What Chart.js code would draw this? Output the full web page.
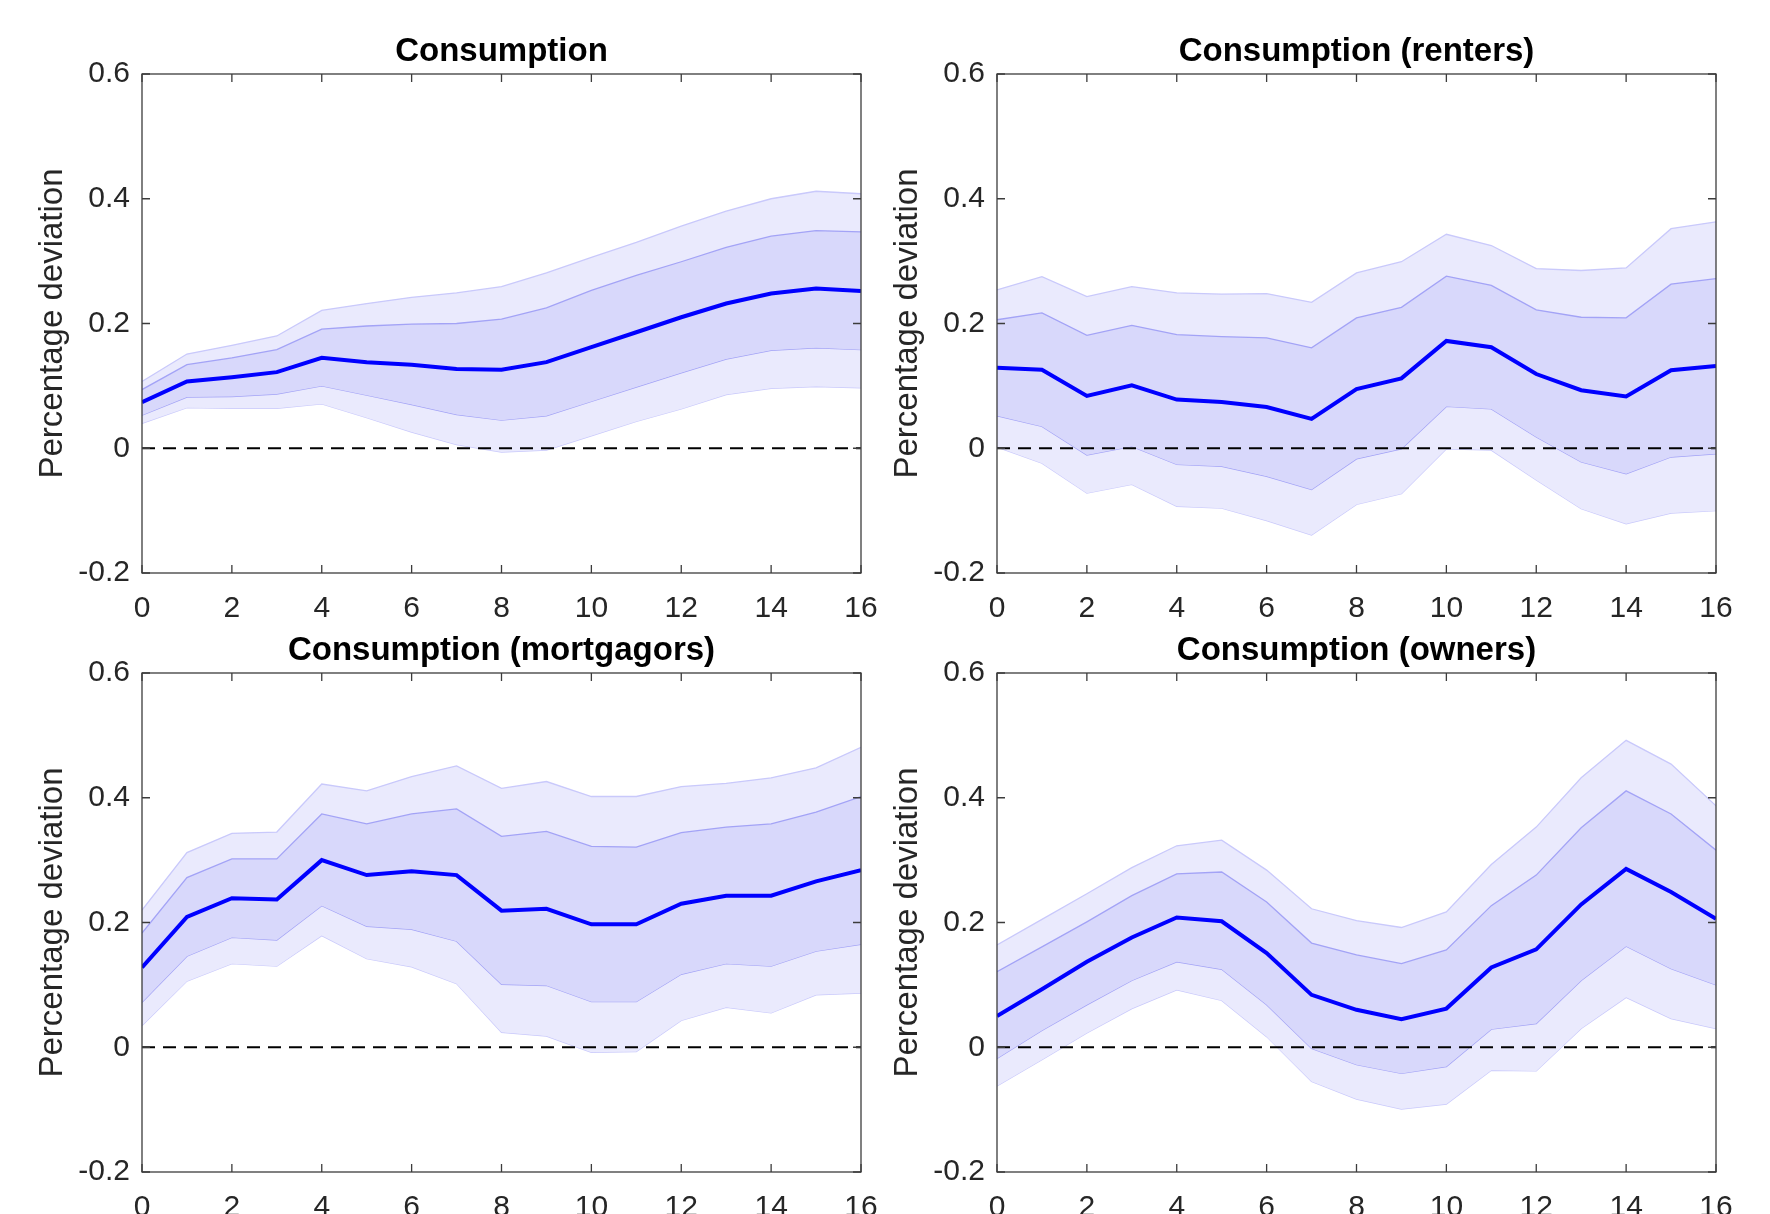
<!DOCTYPE html>
<html>
<head>
<meta charset="utf-8">
<script src="https://cdn.jsdelivr.net/npm/chart.js@4.4.1/dist/chart.umd.min.js"></script>
<style>
  html, body { margin: 0; padding: 0; background: #ffffff; overflow: hidden; }
  #wrap { position: relative; width: 1770px; height: 1214px; overflow: hidden; background: #fff; }
  canvas { position: absolute; }
</style>
</head>
<body>
<div id="wrap">
  <canvas id="c1" width="885" height="640" style="left:0px;top:0px"></canvas>
  <canvas id="c2" width="885" height="640" style="left:855px;top:0px"></canvas>
  <canvas id="c3" width="885" height="640" style="left:0px;top:599px"></canvas>
  <canvas id="c4" width="885" height="640" style="left:855px;top:599px"></canvas>
</div>
<script>
// ---- Data ----
const horizons = [0,1,2,3,4,5,6,7,8,9,10,11,12,13,14,15,16];
const xTicks = [0,2,4,6,8,10,12,14,16];
const xTickLabels = ['0','2','4','6','8','10','12','14','16'];
const yTicks = [-0.2,0,0.2,0.4,0.6];
const yTickLabels = ['-0.2','0','0.2','0.4','0.6'];
const zeroLineY = 0;
const yAxisTitle = 'Percentage deviation';

// Consumption
const consMean    = [0.074,0.107,0.114,0.122,0.145,0.138,0.134,0.127,0.126,0.138,0.162,0.186,0.210,0.232,0.248,0.256,0.252];
const consInnerUp = [0.094,0.134,0.145,0.158,0.191,0.196,0.199,0.200,0.207,0.225,0.253,0.277,0.299,0.322,0.340,0.349,0.347];
const consInnerLo = [0.053,0.082,0.083,0.087,0.100,0.085,0.070,0.054,0.045,0.052,0.075,0.098,0.121,0.143,0.157,0.161,0.158];
const consOuterUp = [0.107,0.151,0.165,0.180,0.221,0.232,0.242,0.249,0.259,0.281,0.306,0.330,0.356,0.380,0.400,0.412,0.408];
const consOuterLo = [0.040,0.065,0.064,0.064,0.071,0.049,0.026,0.006,-0.006,-0.003,0.020,0.043,0.063,0.086,0.096,0.099,0.097];

// Consumption (renters)
const rentMean    = [0.129,0.126,0.084,0.101,0.078,0.074,0.066,0.047,0.095,0.112,0.172,0.162,0.119,0.093,0.083,0.125,0.132];
const rentInnerUp = [0.206,0.217,0.181,0.197,0.182,0.179,0.177,0.161,0.209,0.226,0.276,0.261,0.222,0.210,0.209,0.263,0.272];
const rentInnerLo = [0.052,0.035,-0.011,0.003,-0.026,-0.029,-0.045,-0.066,-0.017,-0.001,0.067,0.063,0.018,-0.022,-0.041,-0.014,-0.009];
const rentOuterUp = [0.254,0.275,0.243,0.259,0.249,0.247,0.248,0.234,0.281,0.299,0.343,0.325,0.288,0.285,0.289,0.352,0.363];
const rentOuterLo = [0.002,-0.024,-0.072,-0.058,-0.093,-0.096,-0.116,-0.139,-0.090,-0.073,-0.001,-0.003,-0.051,-0.097,-0.121,-0.104,-0.100];

// Consumption (mortgagors)
const mortMean    = [0.128,0.209,0.239,0.237,0.300,0.276,0.282,0.276,0.219,0.222,0.197,0.197,0.230,0.243,0.243,0.266,0.284];
const mortInnerUp = [0.183,0.272,0.302,0.302,0.374,0.358,0.374,0.382,0.338,0.346,0.322,0.321,0.344,0.353,0.358,0.377,0.402];
const mortInnerLo = [0.072,0.146,0.176,0.172,0.227,0.194,0.189,0.170,0.101,0.099,0.073,0.073,0.117,0.134,0.130,0.154,0.165];
const mortOuterUp = [0.220,0.312,0.343,0.345,0.422,0.411,0.434,0.451,0.415,0.426,0.402,0.402,0.418,0.423,0.432,0.448,0.481];
const mortOuterLo = [0.035,0.106,0.134,0.130,0.179,0.142,0.129,0.102,0.024,0.018,-0.008,-0.007,0.043,0.064,0.055,0.084,0.087];

// Consumption (owners)
const ownMean    = [0.050,0.093,0.137,0.176,0.208,0.202,0.151,0.084,0.060,0.045,0.062,0.128,0.157,0.229,0.286,0.249,0.206];
const ownInnerUp = [0.121,0.161,0.201,0.243,0.278,0.281,0.233,0.167,0.148,0.134,0.156,0.227,0.276,0.352,0.411,0.374,0.316];
const ownInnerLo = [-0.018,0.027,0.068,0.107,0.137,0.125,0.068,-0.002,-0.028,-0.042,-0.031,0.029,0.038,0.107,0.162,0.126,0.100];
const ownOuterUp = [0.164,0.205,0.246,0.288,0.323,0.332,0.284,0.222,0.203,0.192,0.217,0.293,0.353,0.432,0.492,0.454,0.387];
const ownOuterLo = [-0.062,-0.020,0.023,0.062,0.092,0.075,0.017,-0.055,-0.083,-0.099,-0.091,-0.037,-0.038,0.030,0.080,0.046,0.030];

const panels = [
  { id: 'c1', title: 'Consumption',              mean: consMean, iu: consInnerUp, il: consInnerLo, ou: consOuterUp, ol: consOuterLo },
  { id: 'c2', title: 'Consumption (renters)',    mean: rentMean, iu: rentInnerUp, il: rentInnerLo, ou: rentOuterUp, ol: rentOuterLo },
  { id: 'c3', title: 'Consumption (mortgagors)', mean: mortMean, iu: mortInnerUp, il: mortInnerLo, ou: mortOuterUp, ol: mortOuterLo },
  { id: 'c4', title: 'Consumption (owners)',     mean: ownMean,  iu: ownInnerUp,  il: ownInnerLo,  ou: ownOuterUp,  ol: ownOuterLo }
];

// ---- Styling ----
const FONT = "'Liberation Sans', Arial, Helvetica, sans-serif";
const meanColor = '#0000ff';
const innerFill = '#d8d8fb';
const outerFill = '#eaeafd';
const innerEdge = '#a3a3f6';
const outerEdge = '#c9c9fb';
const axisColor = '#3c3c3c';

const pts = arr => horizons.map((h, i) => ({ x: h, y: arr[i] }));

const boxPlugin = {
  id: 'matBox',
  afterDraw(chart) {
    const { ctx, chartArea: a, scales: { x, y } } = chart;
    const tl = 8;
    ctx.save();
    ctx.strokeStyle = axisColor;
    ctx.lineWidth = 1.3;
    ctx.strokeRect(a.left, a.top, a.right - a.left, a.bottom - a.top);
    ctx.beginPath();
    x.ticks.forEach(t => {
      const px = x.getPixelForValue(t.value);
      ctx.moveTo(px, a.bottom); ctx.lineTo(px, a.bottom - tl);
      ctx.moveTo(px, a.top); ctx.lineTo(px, a.top + tl);
    });
    y.ticks.forEach(t => {
      const py = y.getPixelForValue(t.value);
      ctx.moveTo(a.left, py); ctx.lineTo(a.left + tl, py);
      ctx.moveTo(a.right, py); ctx.lineTo(a.right - tl, py);
    });
    ctx.stroke();
    ctx.restore();
  }
};

panels.forEach(p => {
  const ctx = document.getElementById(p.id).getContext('2d');
  new Chart(ctx, {
    type: 'line',
    data: {
      datasets: [
        { label: 'mean', data: pts(p.mean), borderColor: meanColor, borderWidth: 4, pointRadius: 0, fill: false, tension: 0 },
        { label: 'zero', data: [{ x: horizons[0], y: zeroLineY }, { x: horizons[horizons.length - 1], y: zeroLineY }],
          borderColor: '#000000', borderWidth: 2, borderDash: [13, 8], pointRadius: 0, fill: false },
        { label: 'inner upper', data: pts(p.iu), borderColor: innerEdge, borderWidth: 1.3, pointRadius: 0, fill: '+1', backgroundColor: innerFill, tension: 0 },
        { label: 'inner lower', data: pts(p.il), borderColor: innerEdge, borderWidth: 1.3, pointRadius: 0, fill: false, tension: 0 },
        { label: 'outer upper', data: pts(p.ou), borderColor: outerEdge, borderWidth: 1.3, pointRadius: 0, fill: '+1', backgroundColor: outerFill, tension: 0 },
        { label: 'outer lower', data: pts(p.ol), borderColor: outerEdge, borderWidth: 1.3, pointRadius: 0, fill: false, tension: 0 }
      ]
    },
    options: {
      responsive: false,
      animation: false,
      events: [],
      layout: { padding: { left: 0, right: 24, top: 0, bottom: 0 } },
      plugins: {
        legend: { display: false },
        tooltip: { enabled: false },
        title: {
          display: true,
          text: p.title,
          fullSize: false,
          color: '#000000',
          font: { family: FONT, size: 33, weight: 'bold', lineHeight: '40px' },
          padding: { top: 32, bottom: 2 }
        }
      },
      scales: {
        x: {
          type: 'linear',
          min: 0, max: 16,
          grid: { display: false, drawTicks: false },
          border: { display: false },
          afterBuildTicks: s => { s.ticks = xTicks.map(v => ({ value: v })); },
          afterFit: s => { s.height = 67; s.paddingLeft = 0; s.paddingRight = 0; },
          ticks: {
            autoSkip: false,
            maxRotation: 0,
            padding: 18,
            color: '#262626',
            font: { family: FONT, size: 30 },
            callback: (v, i) => xTickLabels[i]
          }
        },
        y: {
          type: 'linear',
          min: -0.2, max: 0.6,
          grid: { display: false, drawTicks: false },
          border: { display: false },
          afterBuildTicks: s => { s.ticks = yTicks.map(v => ({ value: v })); },
          afterFit: s => { s.width = 142; },
          ticks: {
            autoSkip: false,
            padding: 12,
            color: '#262626',
            font: { family: FONT, size: 30 },
            callback: (v, i) => yTickLabels[i]
          },
          title: {
            display: true,
            text: yAxisTitle,
            color: '#262626',
            font: { family: FONT, size: 33, lineHeight: 1.2 },
            padding: { top: 33, bottom: 0 }
          }
        }
      }
    },
    plugins: [boxPlugin]
  });
});
</script>
</body>
</html>
